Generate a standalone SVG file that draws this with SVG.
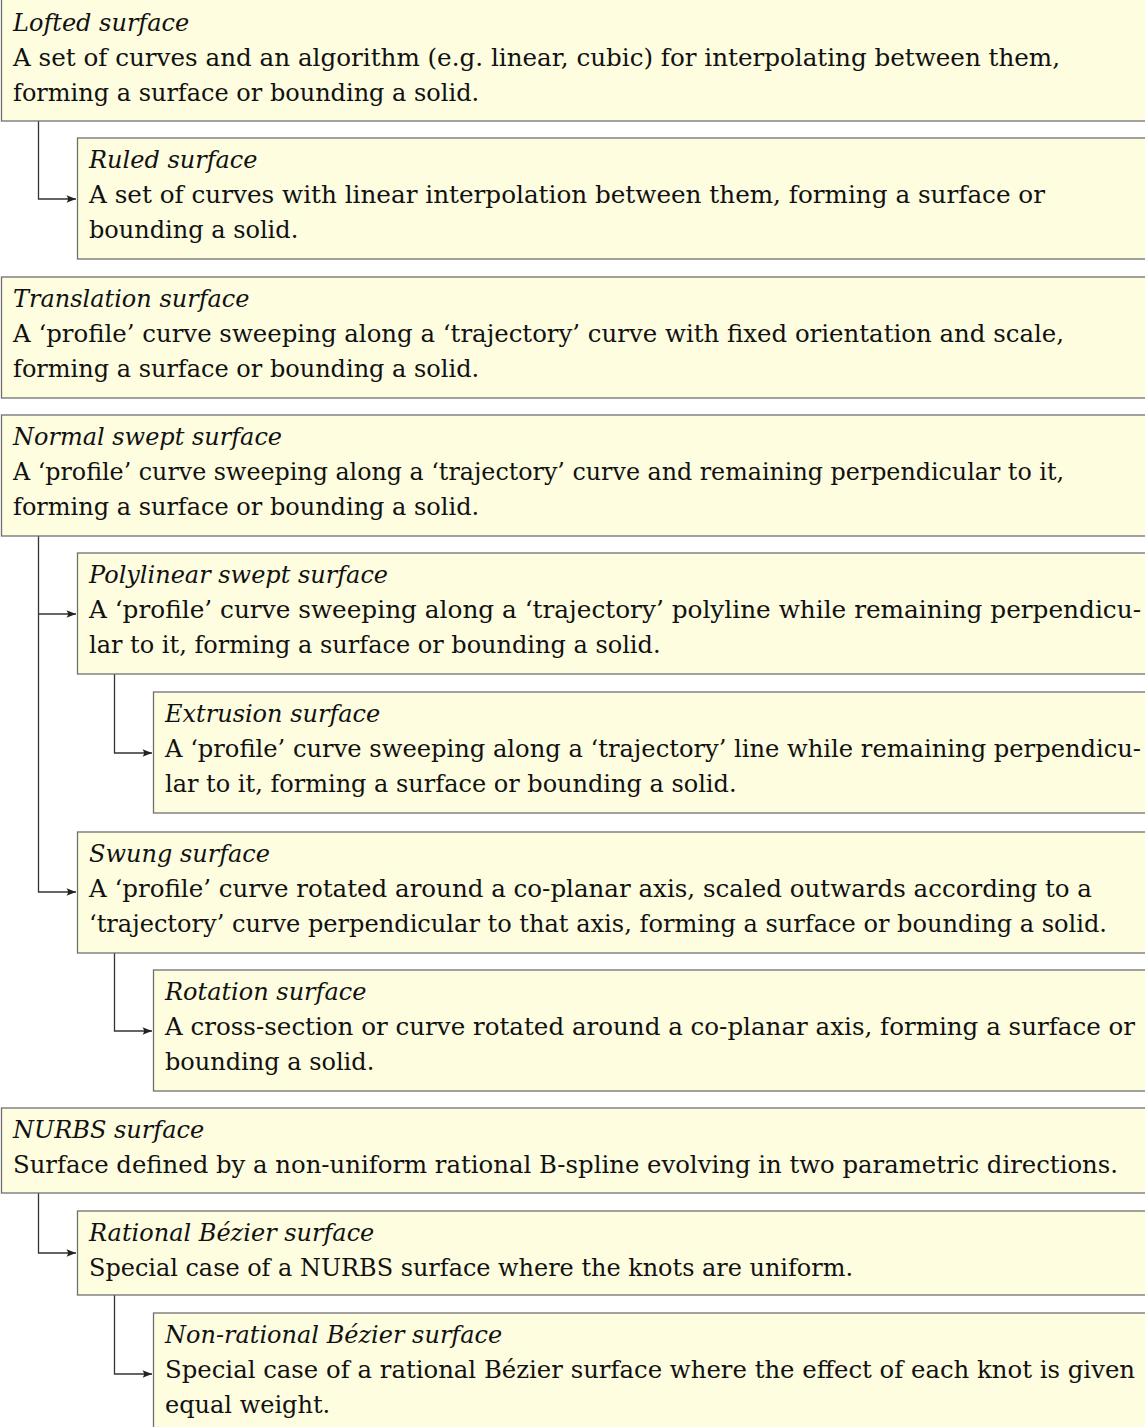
<svg xmlns="http://www.w3.org/2000/svg" width="1145" height="1427" viewBox="0 0 1145 1427">
<style>
.box{fill:#fefddf;stroke:#707070;stroke-width:1.3}
.t{font-family:"DejaVu Serif","Liberation Serif",serif;font-style:italic;font-size:24px;fill:#111}
.b{font-family:"DejaVu Serif","Liberation Serif",serif;font-size:24px;fill:#111}
.c{fill:none;stroke:#333;stroke-width:1.3}
</style>
<defs>
<marker id="ar" markerUnits="userSpaceOnUse" markerWidth="12" markerHeight="10" viewBox="-11 -5 12 10" refX="0" refY="0" orient="auto">
<path d="M0,0 L-9.5,-3.8 Q-6.5,0 -9.5,3.8 Z" fill="#222"/>
</marker>
</defs>
<rect width="1145" height="1427" fill="#fff"/>

<g id="connectors">
<path class="c" d="M38.5,121 V199 H76" marker-end="url(#ar)"/>
<path class="c" d="M38.5,536 V892 H76" marker-end="url(#ar)"/>
<path class="c" d="M38.5,614 H76" marker-end="url(#ar)"/>
<path class="c" d="M114.5,674 V753 H152" marker-end="url(#ar)"/>
<path class="c" d="M114.5,953 V1031 H152" marker-end="url(#ar)"/>
<path class="c" d="M38.5,1193 V1253 H76" marker-end="url(#ar)"/>
<path class="c" d="M114.5,1295 V1374 H152" marker-end="url(#ar)"/>
</g>

<g id="lofted">
<rect class="box" x="1.5" y="-1" width="1160" height="122"/>
<text class="t" x="13" y="31">Lofted surface</text>
<text class="b" x="13" y="66" textLength="1047" lengthAdjust="spacingAndGlyphs">A set of curves and an algorithm (e.g. linear, cubic) for interpolating between them,</text>
<text class="b" x="13" y="101">forming a surface or bounding a solid.</text>
</g>

<g id="ruled">
<rect class="box" x="77.5" y="138" width="1100" height="121"/>
<text class="t" x="89" y="168">Ruled surface</text>
<text class="b" x="89" y="203" textLength="956" lengthAdjust="spacingAndGlyphs">A set of curves with linear interpolation between them, forming a surface or</text>
<text class="b" x="89" y="238">bounding a solid.</text>
</g>

<g id="translation">
<rect class="box" x="1.5" y="277" width="1160" height="121"/>
<text class="t" x="13" y="307">Translation surface</text>
<text class="b" x="13" y="342" textLength="1051" lengthAdjust="spacingAndGlyphs">A ‘profile’ curve sweeping along a ‘trajectory’ curve with fixed orientation and scale,</text>
<text class="b" x="13" y="377">forming a surface or bounding a solid.</text>
</g>

<g id="normal-swept">
<rect class="box" x="1.5" y="415" width="1160" height="121"/>
<text class="t" x="13" y="445">Normal swept surface</text>
<text class="b" x="13" y="480" textLength="1051" lengthAdjust="spacingAndGlyphs">A ‘profile’ curve sweeping along a ‘trajectory’ curve and remaining perpendicular to it,</text>
<text class="b" x="13" y="515">forming a surface or bounding a solid.</text>
</g>

<g id="polylinear">
<rect class="box" x="77.5" y="553" width="1100" height="121"/>
<text class="t" x="89" y="583">Polylinear swept surface</text>
<text class="b" x="89" y="618" textLength="1052" lengthAdjust="spacingAndGlyphs">A ‘profile’ curve sweeping along a ‘trajectory’ polyline while remaining perpendicu-</text>
<text class="b" x="89" y="653">lar to it, forming a surface or bounding a solid.</text>
</g>

<g id="extrusion">
<rect class="box" x="153.5" y="692" width="1050" height="121"/>
<text class="t" x="165" y="722">Extrusion surface</text>
<text class="b" x="165" y="757" textLength="976" lengthAdjust="spacingAndGlyphs">A ‘profile’ curve sweeping along a ‘trajectory’ line while remaining perpendicu-</text>
<text class="b" x="165" y="792">lar to it, forming a surface or bounding a solid.</text>
</g>

<g id="swung">
<rect class="box" x="77.5" y="832" width="1100" height="121"/>
<text class="t" x="89" y="862">Swung surface</text>
<text class="b" x="89" y="897" textLength="1003" lengthAdjust="spacingAndGlyphs">A ‘profile’ curve rotated around a co-planar axis, scaled outwards according to a</text>
<text class="b" x="89" y="932" textLength="1018" lengthAdjust="spacingAndGlyphs">‘trajectory’ curve perpendicular to that axis, forming a surface or bounding a solid.</text>
</g>

<g id="rotation">
<rect class="box" x="153.5" y="970" width="1050" height="121"/>
<text class="t" x="165" y="1000">Rotation surface</text>
<text class="b" x="165" y="1035" textLength="970" lengthAdjust="spacingAndGlyphs">A cross-section or curve rotated around a co-planar axis, forming a surface or</text>
<text class="b" x="165" y="1070">bounding a solid.</text>
</g>

<g id="nurbs">
<rect class="box" x="1.5" y="1108" width="1160" height="85"/>
<text class="t" x="13" y="1138">NURBS surface</text>
<text class="b" x="13" y="1173" textLength="1105" lengthAdjust="spacingAndGlyphs">Surface defined by a non-uniform rational B-spline evolving in two parametric directions.</text>
</g>

<g id="rational-bezier">
<rect class="box" x="77.5" y="1211" width="1100" height="84"/>
<text class="t" x="89" y="1241">Rational Bézier surface</text>
<text class="b" x="89" y="1276" textLength="764" lengthAdjust="spacingAndGlyphs">Special case of a NURBS surface where the knots are uniform.</text>
</g>

<g id="non-rational-bezier">
<rect class="box" x="153.5" y="1313" width="1050" height="130"/>
<text class="t" x="165" y="1343">Non-rational Bézier surface</text>
<text class="b" x="165" y="1378" textLength="970" lengthAdjust="spacingAndGlyphs">Special case of a rational Bézier surface where the effect of each knot is given</text>
<text class="b" x="165" y="1413">equal weight.</text>
</g>
</svg>
